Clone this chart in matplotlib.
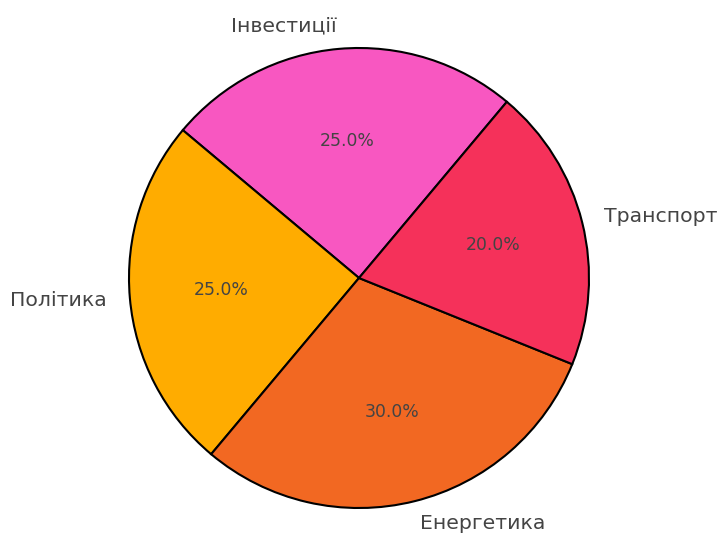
import matplotlib
matplotlib.use("Agg")
import matplotlib.pyplot as plt

labels = ["Інвестиції", "Політика", "Енергетика", "Транспорт"]
shares = [25, 25, 30, 20]
colors = ["#F857C1", "#FFAC00", "#F26822", "#F5315A"]

fig = plt.figure(figsize=(7.2, 5.33), dpi=100)
ax = fig.add_axes([129 / 720, 25 / 533, 460 / 720, 460 / 533])

wedges, texts, autotexts = ax.pie(
    shares, labels=labels, colors=colors, autopct="%1.1f%%",
    startangle=50, counterclock=True,
    wedgeprops=dict(edgecolor="black", linewidth=1.5),
    textprops=dict(color="#444444"),
)
for t in texts:
    t.set_fontsize(14.7)
for t in autotexts:
    t.set_fontsize(12.4)

ax.set_xlim(-1, 1)
ax.set_ylim(-1, 1)
ax.set_aspect("equal")

plt.savefig("out.png", dpi=100)
plt.close()
